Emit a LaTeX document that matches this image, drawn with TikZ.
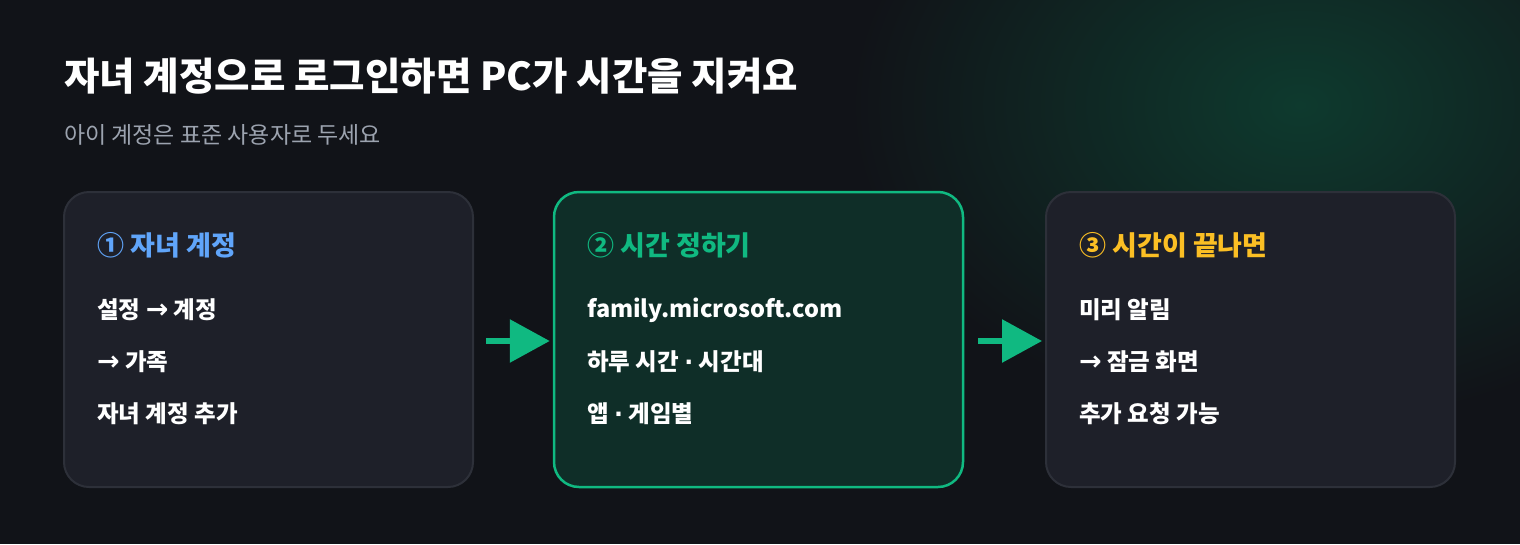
\documentclass[tikz,border=0pt]{standalone}
\usepackage{fontspec}
\setmainfont{Noto Sans CJK KR}
\newfontfamily\sym{DejaVu Sans}
\usetikzlibrary{arrows.meta}
\definecolor{bg}{HTML}{111318}
\definecolor{glow}{HTML}{0E3A2E}
\definecolor{cardfill}{HTML}{1E2029}
\definecolor{cardline}{HTML}{2D3039}
\definecolor{gfill}{HTML}{0F2E28}
\definecolor{emerald}{HTML}{10B981}
\definecolor{hblue}{HTML}{60A5FA}
\definecolor{hyellow}{HTML}{FBBF24}
\definecolor{subgrey}{HTML}{9CA3AF}
\newcommand{\ar}{{\sym\bfseries\fontsize{27}{27}\selectfont →}}
\newcommand{\md}{{\sym\bfseries ·}}
\tikzset{
  card/.style={draw=cardline, line width=2pt, fill=cardfill, rounded corners=25pt, minimum width=409pt, minimum height=295pt, inner sep=0pt},
  gcard/.style={card, draw=emerald, line width=2.5pt, fill=gfill},
  head/.style={anchor=west, inner sep=0pt, font=\fontsize{27}{31}\selectfont\bfseries},
  line/.style={anchor=west, inner sep=0pt, text=white, font=\fontsize{23.5}{27}\selectfont\bfseries},
  flow/.style={emerald, line width=6pt, -{Triangle[length=40pt,width=42pt]}}
}
\begin{document}
\begin{tikzpicture}[x=1pt,y=-1pt]
\useasboundingbox (0,0) rectangle (1520,544);
\fill[bg] (0,0) rectangle (1520,544);
\begin{scope}
\clip (0,0) rectangle (1520,544);
\shade[inner color=glow, outer color=bg] (1300,105) ellipse [x radius=450, y radius=320];
\end{scope}
\node[anchor=west, inner sep=0pt, text=white, font=\fontsize{38.5}{44}\selectfont\bfseries] (title) at (64,76) {자녀 계정으로 로그인하면 PC가 시간을 지켜요};
\node[anchor=west, inner sep=0pt, text=subgrey, font=\fontsize{23}{26}\selectfont] (sub) at (64,135) {아이 계정은 표준 사용자로 두세요};

\node[card] (b1) at (268.5,339.5) {};
\node[gcard] (b2) at (758.5,339.5) {};
\node[card] (b3) at (1250.5,339.5) {};

\node[head, text=hblue] (h1) at (97,245) {① 자녀 계정};
\node[line] (l11) at (97,310) {설정 \ar{} 계정};
\node[line] (l12) at (97,362) {\ar{} 가족};
\node[line] (l13) at (97,414) {자녀 계정 추가};

\node[head, text=emerald] (h2) at (587,245) {② 시간 정하기};
\node[line] (l21) at (587,310) {family.microsoft.com};
\node[line] (l22) at (587,362) {하루 시간 \md{} 시간대};
\node[line] (l23) at (587,414) {앱 \md{} 게임별};

\node[head, text=hyellow] (h3) at (1079,245) {③ 시간이 끝나면};
\node[line] (l31) at (1079,310) {미리 알림};
\node[line] (l32) at (1079,362) {\ar{} 잠금 화면};
\node[line] (l33) at (1079,414) {추가 요청 가능};

\draw[flow, shorten <=12pt, shorten >=3pt] (b1.east |- 0,341) -- (b2.west |- 0,341);
\draw[flow, shorten <=14pt, shorten >=3pt] (b2.east |- 0,341) -- (b3.west |- 0,341);
\end{tikzpicture}
\end{document}
